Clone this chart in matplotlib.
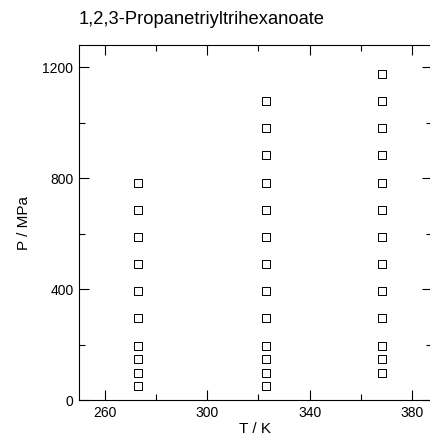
"""P-T measurement grid for 1,2,3-propanetriyltrihexanoate"""

import matplotlib.pyplot as plt
from matplotlib.ticker import MultipleLocator

# temperatures (K) and the pressures (MPa) measured at each
t_values = [273.15, 323.15, 368.15]
p_273 = [49, 98, 147, 196, 294, 392, 490, 588, 686, 784]
p_323 = [49, 98, 147, 196, 294, 392, 490, 588, 686, 784, 882, 980, 1078]
p_368 = [98, 147, 196, 294, 392, 490, 588, 686, 784, 882, 980, 1078, 1176]
pressures = [p_273, p_323, p_368]

plt.rcParams["font.family"] = ["Liberation Sans", "DejaVu Sans"]

fig = plt.figure(figsize=(4.31, 4.37), dpi=100)
ax = fig.add_axes([79 / 431, 37 / 437, 353 / 431, 355 / 437])

for t, p in zip(t_values, pressures):
    ax.scatter([t] * len(p), p, marker="s", s=26, facecolors="white",
               edgecolors="black", linewidths=0.7, zorder=3)

ax.set_xlim(250, 387.8)
ax.set_ylim(0, 1280)
ax.set_xticks([260, 300, 340, 380])
ax.xaxis.set_minor_locator(MultipleLocator(20))
ax.yaxis.set_major_locator(MultipleLocator(400))
ax.yaxis.set_minor_locator(MultipleLocator(200))
ax.tick_params(which="both", direction="in", top=True, right=True,
               labelsize=10, width=0.8, pad=4)
ax.tick_params(which="major", length=7.5)
ax.tick_params(which="minor", length=4)
for spine in ax.spines.values():
    spine.set_linewidth(0.8)

ax.set_xlabel("T / K", fontsize=11, labelpad=2)
ax.set_ylabel("P / MPa", fontsize=11, labelpad=8)
fig.text(79 / 431, 1 - 20 / 437, "1,2,3-Propanetriyltrihexanoate",
         fontsize=13.2, ha="left", va="center")

fig.savefig("out.png", dpi=100)
